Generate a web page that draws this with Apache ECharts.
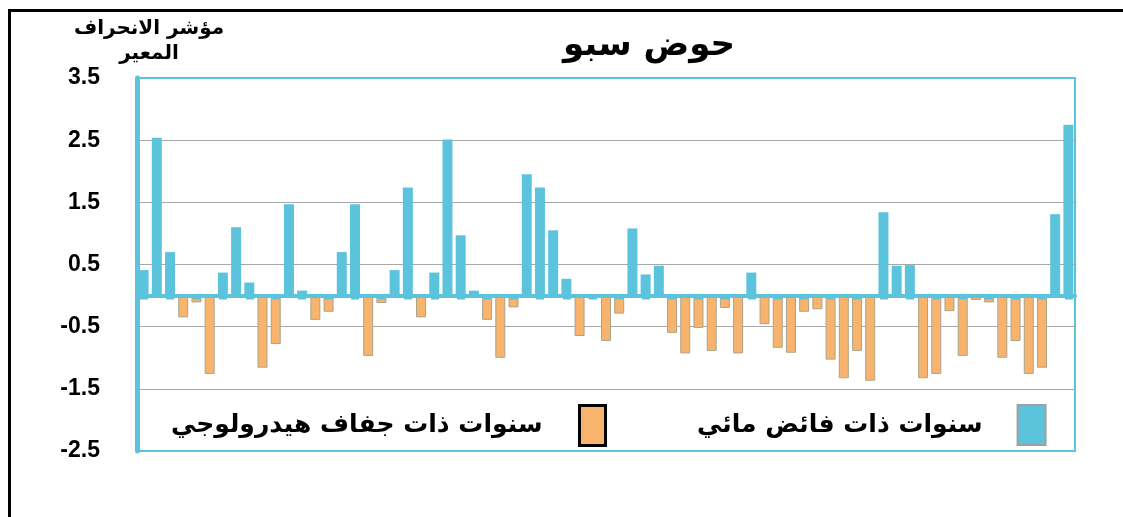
<!DOCTYPE html>
<html>
<head>
<meta charset="utf-8">
<script src="https://cdn.jsdelivr.net/npm/echarts@6/dist/echarts.min.js"></script>
<style>
html,body{margin:0;padding:0;background:#fff;}
#chart{width:1123px;height:517px;}
</style>
</head>
<body>
<div id="chart"></div>
<script>
// Standardized index values, one per year
const sdiValues = [
  0.41, 2.54, 0.70, -0.35, -0.11, -1.26, 0.37, 1.10, 0.21, -1.16,
  -0.78, 1.47, 0.08, -0.39, -0.26, 0.70, 1.47, -0.97, -0.12, 0.41,
  1.74, -0.35, 0.37, 2.51, 0.97, 0.08, -0.39, -1.00, -0.19, 1.95,
  1.74, 1.05, 0.27, -0.65, -0.05, -0.73, -0.29, 1.08, 0.34, 0.48,
  -0.60, -0.93, -0.52, -0.89, -0.20, -0.93, 0.37, -0.46, -0.84, -0.92,
  -0.26, -0.22, -1.03, -1.33, -0.89, -1.37, 1.34, 0.48, 0.49, -1.33,
  -1.26, -0.25, -0.97, -0.07, -0.11, -1.00, -0.73, -1.26, -1.16, 1.31,
  2.75
];
const categories = sdiValues.map((_, i) => String(i + 1));
const yTickLabels = ['-2.5', '-1.5', '-0.5', '0.5', '1.5', '2.5', '3.5'];
const titleText = 'حوض سبو';
const yAxisName = 'مؤشر الانحراف\nالمعير';
const surplusName = 'سنوات ذات فائض مائي';
const droughtName = 'سنوات ذات جفاف هيدرولوجي';

const surplusData = sdiValues.map(v => v >= 0 ? v : '-');
const droughtData = sdiValues.map(v => v < 0 ? v : '-');

const BLUE = '#5bc4dc';
const ORANGE = '#f8b46c';
const AR_FONT = "'DejaVu Sans', 'Liberation Sans', sans-serif";
const NUM_FONT = "'Liberation Sans', Arial, sans-serif";

const chart = echarts.init(document.getElementById('chart'), null, {renderer: 'canvas'});
chart.setOption({
  animation: false,
  backgroundColor: '#fff',
  title: {
    text: titleText,
    left: 644,
    top: 24,
    textAlign: 'center',
    textStyle: {fontFamily: AR_FONT, fontWeight: 'bold', fontSize: 34, color: '#000'}
  },
  graphic: [{
    type: 'rect',
    shape: {x: 9.5, y: 10.5, width: 1130, height: 530},
    style: {fill: 'none', stroke: '#000', lineWidth: 3},
    silent: true
  }],
  grid: {
    left: 137, right: 48, top: 78, bottom: 66,
    show: true, borderColor: BLUE, borderWidth: 2, backgroundColor: '#fff'
  },
  legend: [{
    data: [droughtName],
    left: 166, top: 399,
    align: 'right', icon: 'rect',
    itemWidth: 26, itemHeight: 40,
    itemStyle: {borderColor: '#000', borderWidth: 3},
    textStyle: {fontFamily: AR_FONT, fontWeight: 'bold', fontSize: 25, color: '#000', padding: [0, 32, 0, 0]}
  }, {
    data: [surplusName],
    left: 692, top: 399,
    align: 'right', icon: 'rect',
    itemWidth: 28, itemHeight: 40,
    itemStyle: {borderColor: '#a0a0a0', borderWidth: 2},
    textStyle: {fontFamily: AR_FONT, fontWeight: 'bold', fontSize: 25, color: '#000', padding: [0, 30, 0, 0]}
  }],
  xAxis: {
    type: 'category',
    data: categories,
    z: 3,
    axisLine: {onZero: true, onZeroAxisIndex: 0, lineStyle: {color: BLUE, width: 4}},
    axisTick: {show: true, alignWithLabel: true, length: 4, lineStyle: {color: BLUE, width: 8}},
    axisLabel: {show: false},
    splitLine: {show: false}
  },
  yAxis: [{
    type: 'value',
    min: -2.5, max: 3.5,
    position: 'left',
    z: 4,
    axisLine: {show: true, lineStyle: {color: BLUE, width: 5}},
    axisTick: {show: false},
    axisLabel: {show: false},
    splitLine: {show: false},
    name: yAxisName,
    nameLocation: 'end',
    nameGap: 12,
    nameTextStyle: {fontFamily: AR_FONT, fontWeight: 'bold', fontSize: 20, color: '#000', align: 'center', lineHeight: 25, padding: [0, 0, 0, 24]}
  }, {
    type: 'value',
    min: 0, max: 6, interval: 1,
    position: 'left',
    axisLine: {show: false},
    axisTick: {show: false},
    axisLabel: {
      margin: 37,
      fontFamily: NUM_FONT, fontWeight: 'bold', fontSize: 23, color: '#000',
      formatter: v => yTickLabels[Math.round(v)]
    },
    splitLine: {show: true, showMinLine: false, showMaxLine: false, lineStyle: {color: '#a8a8a8', width: 1}}
  }],
  series: [{
    name: surplusName,
    type: 'bar',
    yAxisIndex: 0,
    data: surplusData,
    barWidth: 10,
    barGap: '-100%',
    itemStyle: {color: BLUE}
  }, {
    name: droughtName,
    type: 'bar',
    yAxisIndex: 0,
    data: droughtData,
    barWidth: 10,
    barGap: '-100%',
    itemStyle: {color: ORANGE, borderColor: '#a9a48a', borderWidth: 1}
  }]
});
</script>
</body>
</html>
